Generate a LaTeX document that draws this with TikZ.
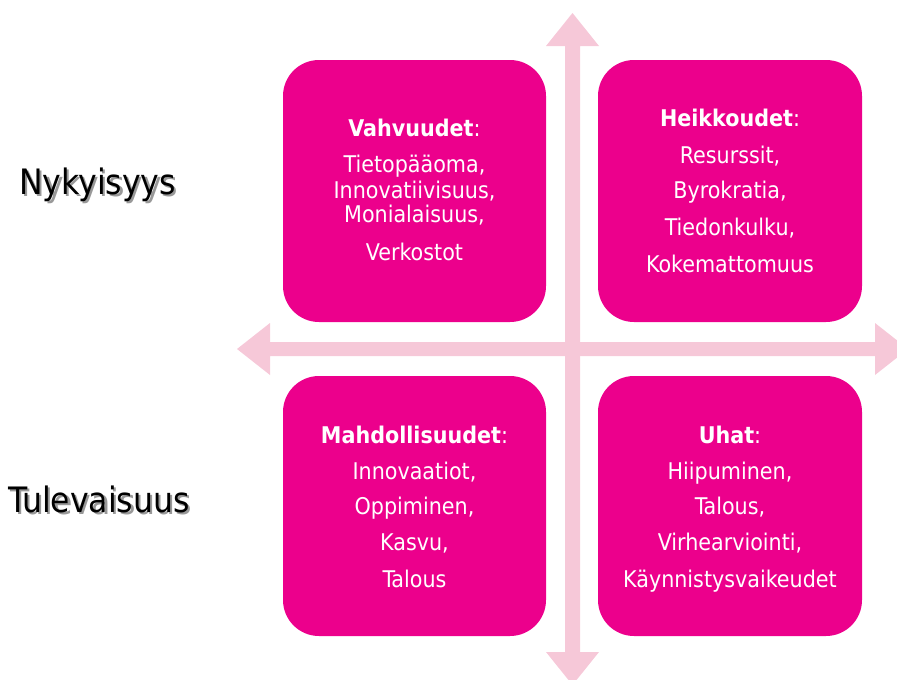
\documentclass[tikz,border=0pt]{standalone}
\usepackage{fontspec}
\setmainfont{DejaVu Sans Condensed}
\definecolor{swotmag}{RGB}{236,0,140}
\definecolor{arrowpink}{RGB}{246,200,216}
\newcommand{\shadowed}[1]{\rlap{\hspace{2.5pt}\raisebox{-2.5pt}{\textcolor{black!40}{#1}}}#1}
\begin{document}
\begin{tikzpicture}[x=1pt,y=-1pt,
  quad/.style={fill=swotmag, rounded corners=36pt},
  itemtxt/.style={text=white, anchor=base, inner sep=0pt, font=\fontsize{23}{27}\selectfont},
  headtxt/.style={itemtxt},
  sidetxt/.style={anchor=base west, inner sep=0pt, font=\fontsize{35}{40}\selectfont}]
\useasboundingbox (0,0) rectangle (897,680);
\clip (0,0) rectangle (897,680);
% axes (double-headed arrows)
\fill[arrowpink] (572.5,13) -- (599,46) -- (580,46) -- (580,652) -- (599,652) -- (572.5,685)
  -- (546,652) -- (565,652) -- (565,46) -- (546,46) -- cycle;
\fill[arrowpink] (237,349) -- (270,323) -- (270,342) -- (875,342) -- (875,323) -- (908,349)
  -- (875,375) -- (875,356) -- (270,356) -- (270,375) -- cycle;
% quadrants
\fill[quad] (283,60) rectangle (546,322);
\fill[quad] (598,60) rectangle (862,322);
\fill[quad] (283,376) rectangle (546,636);
\fill[quad] (598,376) rectangle (862,636);
% top-left
\node[headtxt] (s0) at (414.5,136) {\textbf{Vahvuudet}:};
\node[itemtxt] (s1) at (414.5,172) {Tietopääoma,};
\node[itemtxt] (s2) at (414.5,198) {Innovatiivisuus,};
\node[itemtxt] (s3) at (414.5,222) {Monialaisuus,};
\node[itemtxt] (s4) at (414.5,260) {Verkostot};
% top-right
\node[headtxt] (w0) at (730,126) {\textbf{Heikkoudet}:};
\node[itemtxt] (w1) at (730,163) {Resurssit,};
\node[itemtxt] (w2) at (730,198) {Byrokratia,};
\node[itemtxt] (w3) at (730,235) {Tiedonkulku,};
\node[itemtxt] (w4) at (730,272) {Kokemattomuus};
% bottom-left
\node[headtxt] (o0) at (414.5,443) {\textbf{Mahdollisuudet}:};
\node[itemtxt] (o1) at (414.5,479) {Innovaatiot,};
\node[itemtxt] (o2) at (414.5,514) {Oppiminen,};
\node[itemtxt] (o3) at (414.5,550) {Kasvu,};
\node[itemtxt] (o4) at (414.5,587) {Talous};
% bottom-right
\node[headtxt] (t0) at (730,443) {\textbf{Uhat}:};
\node[itemtxt] (t1) at (730,479) {Hiipuminen,};
\node[itemtxt] (t2) at (730,514) {Talous,};
\node[itemtxt] (t3) at (730,550) {Virhearviointi,};
\node[itemtxt] (t4) at (730,587) {Käynnistysvaikeudet};
% side labels
\node[sidetxt] (ny) at (19,194) {\shadowed{Nykyisyys}};
\node[sidetxt] (tu) at (8,512) {\shadowed{Tulevaisuus}};
\end{tikzpicture}
\end{document}
